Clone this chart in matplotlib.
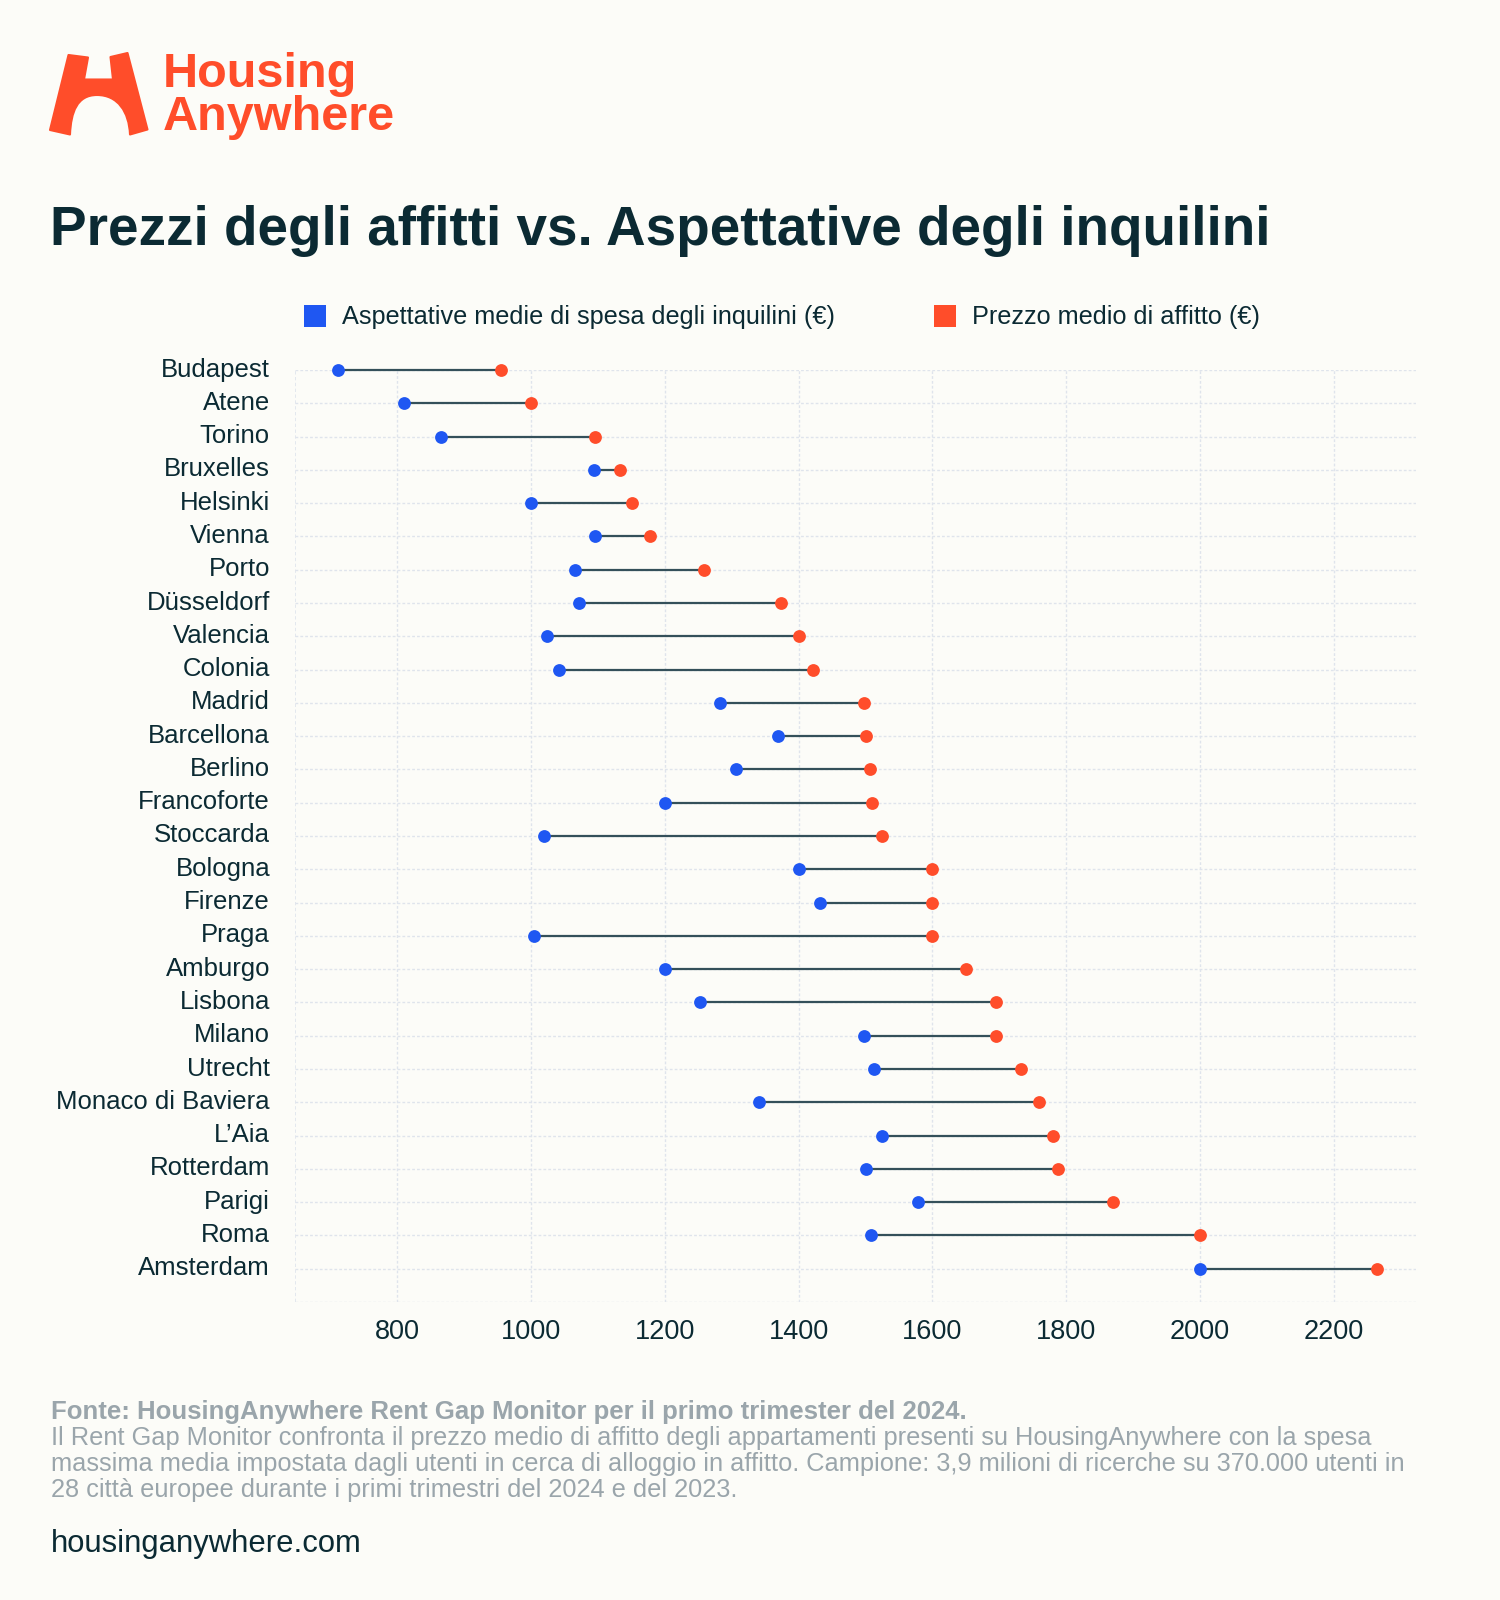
import matplotlib.pyplot as plt
import matplotlib.transforms as mtransforms
from matplotlib.path import Path
from matplotlib.patches import PathPatch

# Dati (euro al mese)
cities = ["Budapest", "Atene", "Torino", "Bruxelles", "Helsinki", "Vienna", "Porto",
          "Düsseldorf", "Valencia", "Colonia", "Madrid", "Barcellona", "Berlino",
          "Francoforte", "Stoccarda", "Bologna", "Firenze", "Praga", "Amburgo",
          "Lisbona", "Milano", "Utrecht", "Monaco di Baviera", "L’Aia", "Rotterdam",
          "Parigi", "Roma", "Amsterdam"]
aspettative = [712, 810, 866, 1094, 1000, 1096, 1065, 1072, 1024, 1041, 1282, 1369,
               1306, 1200, 1020, 1400, 1432, 1004, 1200, 1252, 1498, 1513, 1341, 1525,
               1500, 1578, 1508, 2000]
prezzo = [955, 1000, 1096, 1133, 1151, 1178, 1259, 1373, 1400, 1421, 1497, 1500, 1507,
          1509, 1524, 1600, 1600, 1600, 1650, 1695, 1695, 1732, 1759, 1781, 1788, 1870,
          2000, 2265]
x_ticks = [800, 1000, 1200, 1400, 1600, 1800, 2000, 2200]

legend_labels = ["Aspettative medie di spesa degli inquilini (€)", "Prezzo medio di affitto (€)"]
title = "Prezzi degli affitti vs. Aspettative degli inquilini"
source_bold = "Fonte: HousingAnywhere Rent Gap Monitor per il primo trimester del 2024."
source_lines = [
    "Il Rent Gap Monitor confronta il prezzo medio di affitto degli appartamenti presenti su HousingAnywhere con la spesa",
    "massima media impostata dagli utenti in cerca di alloggio in affitto. Campione: 3,9 milioni di ricerche su 370.000 utenti in",
    "28 città europee durante i primi trimestri del 2024 e del 2023.",
]

BG = "#fcfcf8"
BLUE = "#1f57f2"
ORANGE = "#ff4d2a"
NAVY = "#0b2a33"
GREY = "#9aa5ab"
GRID = "#dfe4ec"

plt.rcParams["font.family"] = ["Liberation Sans", "DejaVu Sans"]

W, H = 1500, 1600
fig = plt.figure(figsize=(W / 100, H / 100), dpi=100, facecolor=BG)

# livello di sfondo in coordinate pixel per logo e testi
over = fig.add_axes([0, 0, 1, 1], zorder=0)
over.set_xlim(0, W)
over.set_ylim(H, 0)
over.axis("off")

# area del grafico
x0, x1 = 295, 1416
y0, y1 = 370, 1302
ax = fig.add_axes([x0 / W, 1 - y1 / H, (x1 - x0) / W, (y1 - y0) / H], zorder=1)
ax.set_facecolor("none")
n = len(cities)
rows = list(range(n))
ax.set_xlim(647, 2323)
ax.set_ylim(n, 0)

for r in range(n + 1):
    ax.axhline(r, color=GRID, lw=1, ls=(0, (2, 1.5)), zorder=0)
for t in x_ticks:
    ax.axvline(t, color=GRID, lw=1, ls=(0, (2, 1.5)), zorder=0)
ax.axvline(647, color=GRID, lw=1.2, ls=(0, (2, 1.5)), zorder=0)

for r, a, p in zip(rows, aspettative, prezzo):
    ax.plot([a, p], [r, r], color="#34505a", lw=1.6, zorder=2, solid_capstyle="butt", clip_on=False)
ax.scatter(aspettative, rows, s=85, color=BLUE, zorder=3, clip_on=False, linewidths=0)
ax.scatter(prezzo, rows, s=85, color=ORANGE, zorder=3, clip_on=False, linewidths=0)

ax.set_xticks(x_ticks)
ax.set_xticklabels([str(t) for t in x_ticks], fontsize=19.5, color=NAVY)
ax.set_yticks(rows)
ax.set_yticklabels(cities, fontsize=18.5, color=NAVY)
ax.tick_params(axis="both", length=0)
ax.tick_params(axis="x", pad=12)
ax.tick_params(axis="y", pad=18)
shift_up = mtransforms.ScaledTranslation(0, 3 / 100, fig.dpi_scale_trans)
for lbl in ax.get_yticklabels():
    lbl.set_transform(lbl.get_transform() + shift_up)
for s in ax.spines.values():
    s.set_visible(False)

# logo: arco ad "H"
verts = [
    (50, 130), (68.5, 55), (88, 57.5), (84, 79.5), (113, 79.5), (110.5, 57), (127.5, 53),
    (147.5, 129.5), (130, 134.5),
    (129, 112), (118, 95), (97, 95),
    (77, 95), (71, 112), (70, 134.5),
    (50, 130), (50, 130),
]
codes = [Path.MOVETO] + [Path.LINETO] * 8 + [Path.CURVE4] * 6 + [Path.LINETO, Path.CLOSEPOLY]
over.add_patch(PathPatch(Path(verts, codes), facecolor=ORANGE, edgecolor=ORANGE, lw=1.5, joinstyle="round"))
# scritta del logo su due righe in un unico testo (baseline = ultima riga)
over.text(163, 130, "Housing\nAnywhere", fontsize=35, fontweight="bold", color=ORANGE,
          va="baseline", ha="left", linespacing=0.93)

over.text(50, 245, title, fontsize=39.5, fontweight="bold", color=NAVY, va="baseline", ha="left")

# legenda
over.add_patch(plt.Rectangle((304, 305), 22, 22, color=BLUE, lw=0))
over.text(342, 317, legend_labels[0], fontsize=18.2, color=NAVY, va="center", ha="left")
over.add_patch(plt.Rectangle((934, 305), 22, 22, color=ORANGE, lw=0))
over.text(972, 317, legend_labels[1], fontsize=18.2, color=NAVY, va="center", ha="left")

over.text(51, 1412, source_bold, fontsize=18.5, fontweight="bold", color=GREY, va="center", ha="left")
for i, line in enumerate(source_lines):
    over.text(51, 1438 + i * 26, line, fontsize=18.3, color=GREY, va="center", ha="left")
over.text(51, 1544, "housinganywhere.com", fontsize=22.3, color=NAVY, va="center", ha="left")

fig.savefig("out.png", dpi=100, facecolor=BG)
